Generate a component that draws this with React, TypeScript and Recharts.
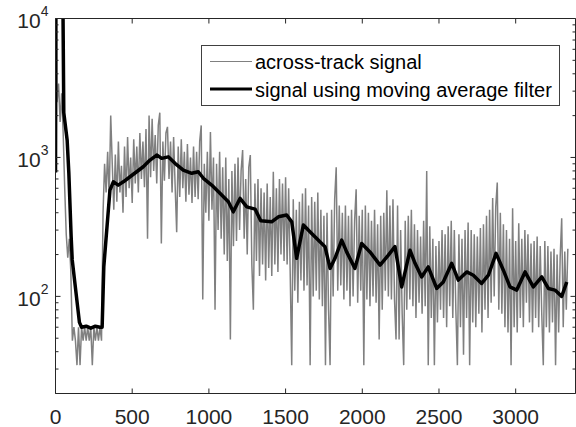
import React from 'react';
import { LineChart, Line, XAxis, YAxis, Legend } from 'recharts';

const AXIS_COLOR = '#262626';
const FONT = '"Liberation Sans", Arial, Helvetica, sans-serif';

const X_TICKS = [0, 500, 1000, 1500, 2000, 2500, 3000];
const Y_MAJOR = [100, 1000, 10000];
const Y_MINOR = [20, 30, 40, 50, 60, 70, 80, 90, 200, 300, 400, 500, 600, 700, 800, 900, 2000, 3000, 4000, 5000, 6000, 7000, 8000, 9000];
const Y_TICKS = [...Y_MINOR, ...Y_MAJOR].sort((a, b) => a - b);

// raw across-track signal, one value every 10 samples (rows of 100 samples)
const GRAY_STEP = 10;
const GRAY_VALUES = [
  30000, 2500, 3400, 1800, 2900, 1500, 600, 280, 190, 260,
  150, 48, 60, 48, 32, 60, 32, 60, 48, 60,
  48, 60, 48, 60, 32, 60, 48, 60, 48, 60,
  48, 400, 900, 560, 1100, 500, 2000, 900, 420, 1050,
  480, 1300, 560, 870, 400, 1200, 520, 1400, 600, 1000,
  470, 1350, 650, 1200, 560, 1500, 700, 1300, 610, 1600,
  260, 2000, 720, 1900, 800, 1450, 650, 1700, 2100, 240,
  1300, 680, 1500, 1660, 700, 1300, 560, 1400, 620, 290,
  1200, 520, 1350, 600, 1100, 480, 1250, 540, 1000, 470,
  1200, 520, 1100, 500, 1300, 1700, 95, 900, 400, 1100,
  350, 1525, 420, 1000, 80, 900, 300, 1100, 260, 850,
  200, 1000, 180, 700, 49, 800, 230, 900, 250, 1000,
  300, 800, 1130, 260, 700, 200, 850, 1040, 170, 80,
  650, 180, 700, 140, 600, 170, 560, 130, 650, 160,
  520, 140, 790, 170, 600, 150, 700, 200, 650, 180,
  720, 170, 600, 150, 32, 500, 110, 420, 90, 480,
  130, 550, 110, 600, 120, 450, 32, 520, 100, 480,
  110, 560, 95, 420, 85, 380, 32, 400, 80, 32,
  420, 100, 500, 850, 110, 450, 120, 400, 95, 450,
  110, 380, 85, 420, 100, 350, 590, 90, 380, 110,
  420, 32, 450, 95, 400, 85, 350, 100, 420, 90,
  330, 49, 380, 80, 400, 110, 580, 100, 450, 95,
  500, 95, 49, 450, 49, 300, 75, 32, 350, 80,
  380, 95, 420, 85, 330, 70, 300, 90, 270, 75,
  350, 85, 800, 32, 320, 70, 260, 32, 230, 65,
  250, 80, 300, 70, 280, 60, 320, 85, 350, 70,
  300, 80, 32, 280, 60, 260, 38, 300, 70, 340,
  32, 300, 65, 280, 60, 270, 75, 310, 55, 330,
  80, 380, 70, 420, 90, 510, 100, 440, 660, 80,
  400, 75, 330, 60, 300, 55, 260, 32, 430, 60,
  250, 55, 336, 70, 260, 60, 300, 90, 280, 65,
  240, 55, 250, 70, 270, 60, 230, 75, 32, 250,
  60, 230, 55, 210, 65, 220, 32, 200, 55, 190,
  365, 60, 210, 80, 220,
];

// moving average filter output
const SMOOTH_X = [
  0, 4, 45, 54, 76, 87, 102, 109, 156, 170, 200, 230, 260, 290, 304, 315, 334, 355, 377, 409,
  442, 486, 529, 572, 616, 660, 692, 735, 779, 833, 888, 931, 964, 1018, 1072, 1127, 1159, 1203, 1247, 1301,
  1338, 1409, 1453, 1507, 1540, 1572, 1616, 1670, 1724, 1757, 1790, 1822, 1866, 1898, 1952, 1996, 2050, 2116, 2170, 2213,
  2257, 2311, 2344, 2387, 2430, 2485, 2528, 2583, 2626, 2681, 2724, 2778, 2822, 2872, 2919, 2963, 3007, 3061, 3115, 3170,
  3213, 3256, 3300, 3333,
];
const SMOOTH_Y = [
  780, 40000, 40000, 2100, 1330, 770, 270, 183, 65, 60, 61, 59, 61, 60, 60, 164, 300, 582, 668, 632,
  668, 726, 789, 857, 957, 1040, 985, 1010, 907, 811, 769, 789, 708, 633, 552, 480, 406, 507, 441, 425,
  350, 344, 374, 385, 344, 188, 326, 284, 247, 228, 159, 188, 254, 209, 159, 240, 209, 168, 198, 228,
  117, 215, 173, 138, 163, 114, 127, 173, 131, 150, 142, 124, 142, 204, 155, 117, 111, 150, 117, 138,
  114, 111, 100, 127,
];

const grayData = GRAY_VALUES.map((v, i) => ({ x: i * GRAY_STEP, y: v }));
const smoothData = SMOOTH_X.map((x, i) => ({ x, y: SMOOTH_Y[i] }));

const LEGEND_WIDTHS = [1, 3];

function LeftTick(props: any) {
  const { x, y, payload } = props;
  const v = payload.value;
  const major = Y_MAJOR.includes(v);
  return (
    <g>
      <line x1={x} x2={x + (major ? 5 : 3)} y1={y} y2={y} stroke={AXIS_COLOR} />
      {major && (
        <text x={x - 7} y={y + 9.5} textAnchor="end" fill={AXIS_COLOR} fontSize={21} fontFamily={FONT}>
          10<tspan dy={-12} fontSize={14}>{Math.round(Math.log10(v))}</tspan>
        </text>
      )}
    </g>
  );
}

function RightTick(props: any) {
  const { x, y, payload } = props;
  const major = Y_MAJOR.includes(payload.value);
  return <line x1={x} x2={x - (major ? 5 : 3)} y1={y} y2={y} stroke={AXIS_COLOR} />;
}

function BottomTick(props: any) {
  const { x, y, payload } = props;
  return (
    <g>
      <line x1={x} x2={x} y1={y} y2={y - 5} stroke={AXIS_COLOR} />
      <text x={x} y={y + 30.5} textAnchor="middle" fill={AXIS_COLOR} fontSize={21} fontFamily={FONT}>
        {payload.value}
      </text>
    </g>
  );
}

function TopTick(props: any) {
  const { x, y } = props;
  return <line x1={x} x2={x} y1={y} y2={y + 5} stroke={AXIS_COLOR} />;
}

function LegendBox(props: any) {
  const items = props.payload || [];
  return (
    <svg width={359} height={61} style={{ display: 'block' }}>
      <rect x={0.5} y={0.5} width={358} height={60} fill="#fff" stroke="#404040" strokeWidth={1} />
      {items.map((item: any, i: number) => (
        <g key={item.value}>
          <line x1={9} x2={51} y1={16.5 + i * 27.5} y2={16.5 + i * 27.5} stroke={item.color} strokeWidth={LEGEND_WIDTHS[i]} />
          <text x={54} y={24.3 + i * 27.4} fill="#000" fontSize={20} fontFamily={FONT}>
            {item.value}
          </text>
        </g>
      ))}
    </svg>
  );
}

export default function App() {
  return (
    <div style={{ position: 'absolute', left: 0, top: 0, width: 576, height: 427, background: '#fff' }}>
      <LineChart width={576} height={427} margin={{ top: 17.5, right: -0.5, bottom: 0, left: 0 }}>
        <XAxis
          xAxisId="b"
          dataKey="x"
          type="number"
          domain={[0, 3390]}
          allowDataOverflow
          ticks={X_TICKS}
          interval={0}
          height={33.5}
          tickSize={0}
          tickMargin={0}
          tickLine={false}
          axisLine={{ stroke: AXIS_COLOR }}
          tick={<BottomTick />}
        />
        <XAxis
          xAxisId="t"
          orientation="top"
          dataKey="x"
          type="number"
          domain={[0, 3390]}
          allowDataOverflow
          ticks={X_TICKS}
          interval={0}
          height={1}
          tickSize={0}
          tickMargin={0}
          tickLine={false}
          axisLine={{ stroke: AXIS_COLOR }}
          tick={<TopTick />}
        />
        <YAxis
          yAxisId="l"
          type="number"
          scale="log"
          domain={[20, 10000]}
          allowDataOverflow
          ticks={Y_TICKS}
          interval={0}
          width={55.5}
          tickSize={0}
          tickMargin={0}
          tickLine={false}
          axisLine={{ stroke: AXIS_COLOR }}
          tick={<LeftTick />}
        />
        <YAxis
          yAxisId="r"
          orientation="right"
          type="number"
          scale="log"
          domain={[20, 10000]}
          allowDataOverflow
          ticks={Y_TICKS}
          interval={0}
          width={1}
          tickSize={0}
          tickMargin={0}
          tickLine={false}
          axisLine={{ stroke: AXIS_COLOR }}
          tick={<RightTick />}
        />
        <Line
          xAxisId="b"
          yAxisId="l"
          data={grayData}
          dataKey="y"
          name="across-track signal"
          type="linear"
          stroke="#808080"
          strokeWidth={1.5}
          dot={false}
          isAnimationActive={false}
        />
        <Line
          xAxisId="b"
          yAxisId="l"
          data={smoothData}
          dataKey="y"
          name="signal using moving average filter"
          type="linear"
          stroke="#000000"
          strokeWidth={3.5}
          strokeLinejoin="round"
          dot={false}
          isAnimationActive={false}
        />
        {/* carries the top and right axes of the box */}
        <Line
          xAxisId="t"
          yAxisId="r"
          data={smoothData}
          dataKey="y"
          stroke="none"
          legendType="none"
          dot={false}
          activeDot={false}
          isAnimationActive={false}
        />
        <Legend
          layout="vertical"
          align="center"
          verticalAlign="middle"
          wrapperStyle={{ left: 201, top: 45, width: 359, height: 61 }}
          content={<LegendBox />}
        />
      </LineChart>
    </div>
  );
}
